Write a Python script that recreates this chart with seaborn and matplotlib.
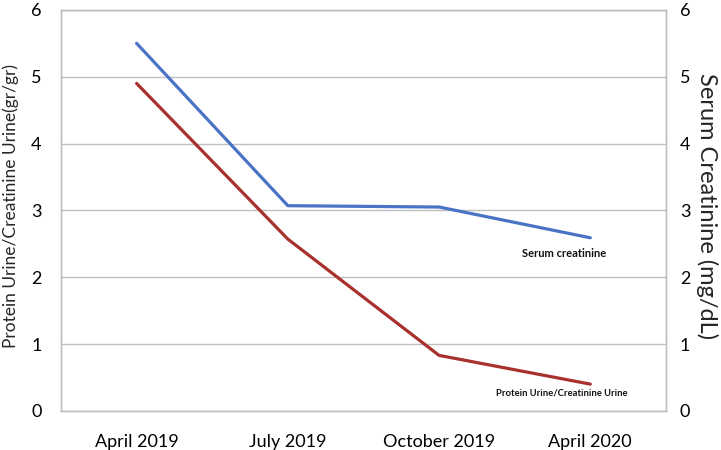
import matplotlib
matplotlib.use("Agg")
import matplotlib.pyplot as plt
import seaborn as sns
import pandas as pd

dates = ["April 2019", "July 2019", "October 2019", "April 2020"]
protein_ratio = [4.9, 2.57, 0.83, 0.40]
serum_creatinine = [5.5, 3.07, 3.05, 2.59]

sns.set_theme(style="white")
plt.rcParams["font.family"] = ["Lato", "DejaVu Sans"]

df = pd.DataFrame({"date": dates, "protein": protein_ratio, "serum": serum_creatinine})

fig = plt.figure(figsize=(7.21, 4.5), dpi=100)
ax = fig.add_axes([0.0846, 0.087, 0.839, 0.891])
ax2 = ax.twinx()

grid_c = "#BFBFBF"
red = "#A8302D"
blue = "#4A73C6"

sns.lineplot(data=df, x="date", y="protein", ax=ax, color=red, linewidth=2.3, sort=False)
sns.lineplot(data=df, x="date", y="serum", ax=ax2, color=blue, linewidth=2.3, sort=False)

for a in (ax, ax2):
    a.set_ylim(0, 6)
    a.set_yticks(range(0, 7))
    a.set_xlim(-0.5, 3.5)
    a.tick_params(axis="both", length=0, labelsize=13, colors="#000000")
    for s in a.spines.values():
        s.set_color(grid_c)
        s.set_linewidth(1.0)

ax.yaxis.grid(True, color=grid_c, linewidth=1.0)
ax.set_axisbelow(True)
ax.tick_params(axis="x", pad=17)
ax.tick_params(axis="y", pad=14)
ax2.tick_params(axis="y", pad=10)

ax.set_xlabel("")
ax2.set_xlabel("")
ax.set_ylabel("Protein Urine/Creatinine Urine(gr/gr)", fontsize=12.5)
ax.yaxis.set_label_coords(-0.07, 0.51)
ax2.set_ylabel("Serum Creatinine (mg/dL)", fontsize=17, rotation=270, labelpad=20)
ax2.yaxis.set_label_coords(1.086, 0.51)

ax2.text(2.83, serum_creatinine[3] - 0.23, "Serum creatinine", fontsize=8,
         fontweight="bold", ha="center", va="center", color="#111111")
ax.text(2.81, protein_ratio[3] - 0.13, "Protein Urine/Creatinine Urine", fontsize=6.8,
        fontweight="bold", ha="center", va="center", color="#111111")

fig.savefig("out.png", dpi=100)
